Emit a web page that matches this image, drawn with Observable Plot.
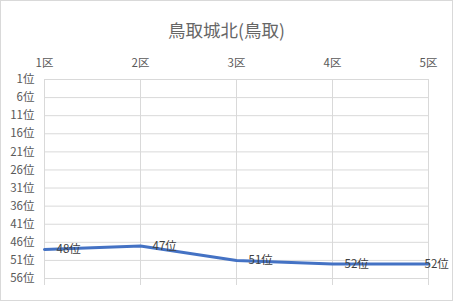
<!DOCTYPE html>
<html><head><meta charset="utf-8">
<script src="https://cdn.jsdelivr.net/npm/d3@7"></script>
<script src="https://cdn.jsdelivr.net/npm/@observablehq/plot@0.6"></script>
<style>
html,body{margin:0;padding:0;background:#fff;}
#chart{position:relative;width:453px;height:301px;}
#chart svg{display:block;}
#border{position:absolute;left:0;top:0;width:451px;height:299px;border:1px solid #d9d9d9;pointer-events:none;}
</style></head>
<body><div id="chart"><div id="border"></div></div>
<script>
const title = "鳥取城北(鳥取)";
const sections = ["1区","2区","3区","4区","5区"];
const ranks = [48, 47, 51, 52, 52];
const yTicks = [1,6,11,16,21,26,31,36,41,46,51,56];

const data = sections.map((s,i)=>({section:s, rank:ranks[i]}));
const font = "'Noto Sans CJK JP', 'Noto Sans', sans-serif";

const chart = Plot.plot({
  width: 453, height: 301,
  marginTop: 79, marginBottom: 23, marginLeft: 44, marginRight: 25,
  style: {fontFamily: font, background: "transparent"},
  x: {type: "point", domain: sections, padding: 0},
  y: {domain: [1,56], reverse: true},
  marks: [
    Plot.ruleY(yTicks, {y: d=>d, stroke: "#d9d9d9", strokeWidth: 1}),
    Plot.ruleX(sections, {x: d=>d, stroke: "#d9d9d9", strokeWidth: 1, insetBottom: -7}),
    Plot.axisX({anchor: "top", tickSize: 0, tickPadding: 13, fontSize: 11.5, fill: "#595959", label: null}),
    Plot.axisY({ticks: yTicks, tickFormat: d=>d+"位", tickSize: 0, tickPadding: 10, fontSize: 11.5, fill: "#595959", label: null}),
    Plot.line(data, {x: "section", y: "rank", stroke: "#4472C4", strokeWidth: 3, curve: "linear", strokeLinejoin: "round"}),
    Plot.text(data.slice(0,-1), {x: "section", y: "rank", text: d=>d.rank+"位", textAnchor: "start", dx: 12, fontSize: 11.5, fill: "#404040"}),
    Plot.text(data.slice(-1), {x: "section", y: "rank", text: d=>d.rank+"位", textAnchor: "start", dx: -4, fontSize: 11.5, fill: "#404040"}),
    Plot.text([title], {frameAnchor: "top", text: d=>d, dy: -55, dx: -10, fontSize: 17.5, fill: "#666666"})
  ]
});
document.getElementById("chart").appendChild(chart);
</script></body></html>
